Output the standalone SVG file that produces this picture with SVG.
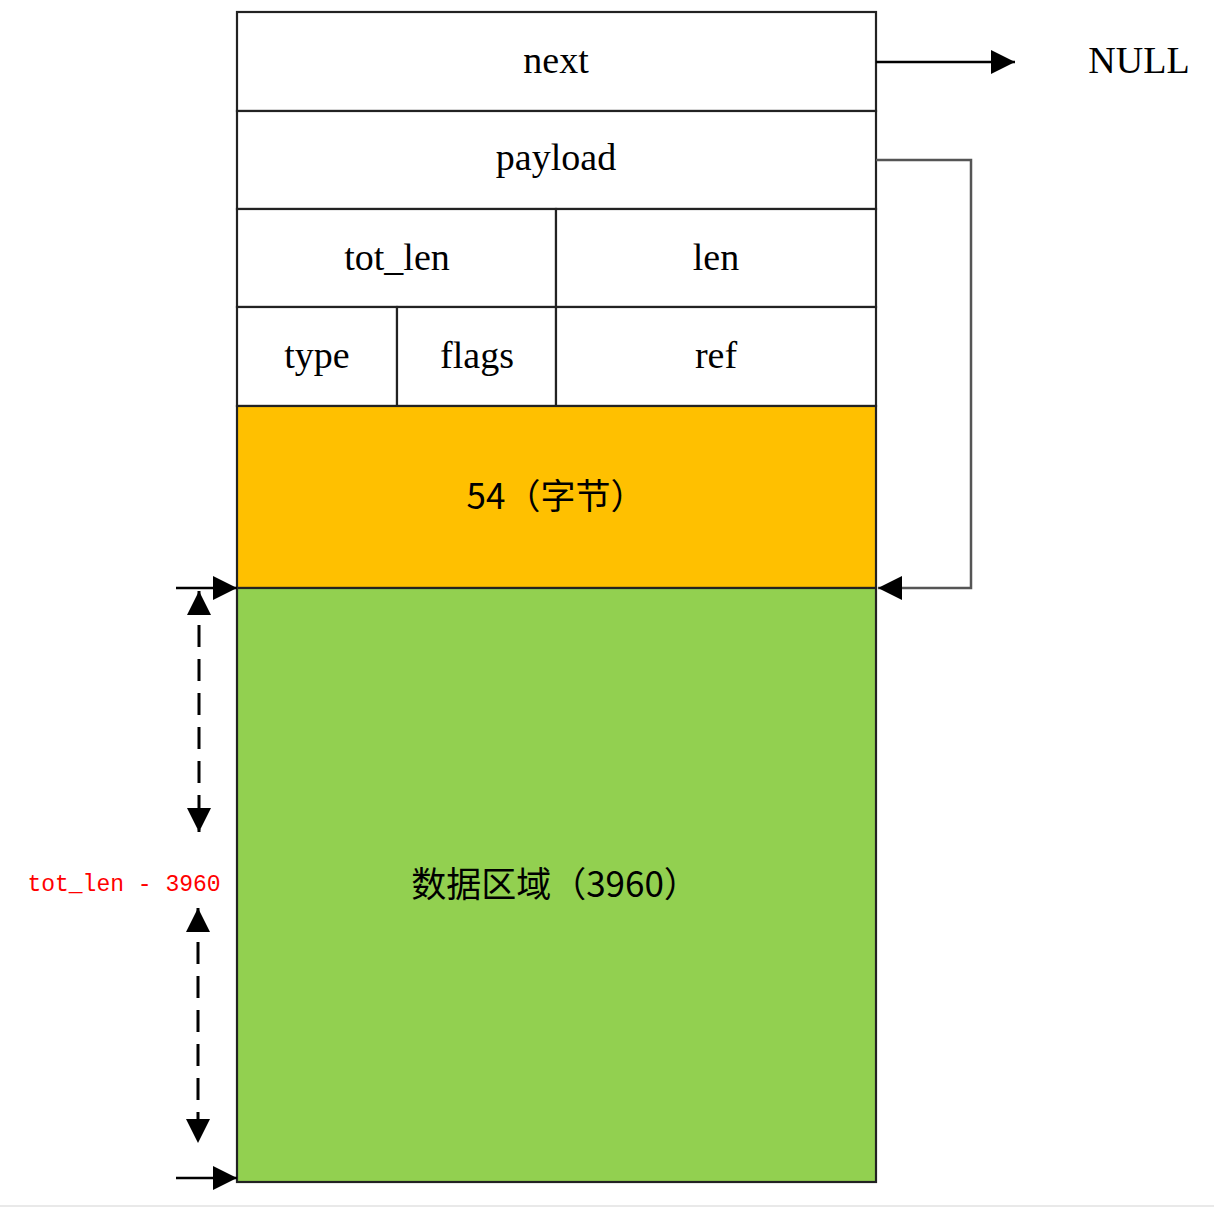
<svg xmlns="http://www.w3.org/2000/svg" width="1214" height="1212" viewBox="0 0 1214 1212">
<style>
.cell{fill:#fff;stroke:#222;stroke-width:2.2}
.lbl{font-family:"Liberation Serif","Times New Roman",serif;font-size:38px;fill:#000;text-anchor:middle}
.cjk{font-family:"Noto Sans CJK SC",sans-serif;font-size:35px;fill:#000;text-anchor:middle}
.red{font-family:"Liberation Mono","Courier New",monospace;font-size:23px;fill:#f00;text-anchor:middle}
.ln{fill:none;stroke:#000;stroke-width:2.5}
.dash{fill:none;stroke:#000;stroke-width:3;stroke-dasharray:22 12}
</style>
<defs>
<marker id="ah" viewBox="0 0 10 10" refX="10" refY="5" markerWidth="24" markerHeight="24" markerUnits="userSpaceOnUse" orient="auto-start-reverse">
<path d="M0,0 L10,5 L0,10 z" fill="#000"/>
</marker>
</defs>
<rect width="1214" height="1212" fill="#fff"/>
<g id="node-next"><rect class="cell" x="237" y="12" width="639" height="99"/><text class="lbl" x="556" y="73">next</text></g>
<g id="node-payload"><rect class="cell" x="237" y="111" width="639" height="98"/><text class="lbl" x="556" y="170">payload</text></g>
<g id="node-tot_len"><rect class="cell" x="237" y="209" width="319" height="98"/><text class="lbl" x="397" y="270">tot_len</text></g>
<g id="node-len"><rect class="cell" x="556" y="209" width="320" height="98"/><text class="lbl" x="716" y="270">len</text></g>
<g id="node-type"><rect class="cell" x="237" y="307" width="160" height="99"/><text class="lbl" x="317" y="368">type</text></g>
<g id="node-flags"><rect class="cell" x="397" y="307" width="159" height="99"/><text class="lbl" x="477" y="368">flags</text></g>
<g id="node-ref"><rect class="cell" x="556" y="307" width="320" height="99"/><text class="lbl" x="716" y="368">ref</text></g>
<g id="node-header"><rect x="237" y="406" width="639" height="182" fill="#FFC000" stroke="#222" stroke-width="2.2"/><text class="cjk" x="556" y="509">54（字节）</text></g>
<g id="node-data"><rect x="237" y="588" width="639" height="594" fill="#92D050" stroke="#222" stroke-width="2.2"/><text class="cjk" x="555" y="897">数据区域（3960）</text></g>
<g id="node-null"><text class="lbl" x="1139" y="73">NULL</text></g>
<g id="label-totlen"><text class="red" x="124" y="891">tot_len - 3960</text></g>
<g id="connectors">
<path class="ln" d="M876,62 H1015" marker-end="url(#ah)"/>
<path fill="none" stroke="#555" stroke-width="2.5" d="M876,160 H971 V588 H878" marker-end="url(#ah)"/>
<path class="ln" d="M176,588 H237" marker-end="url(#ah)"/>
<path class="ln" d="M176,1178 H237" marker-end="url(#ah)"/>
<path class="dash" d="M199,591 V832" marker-start="url(#ah)" marker-end="url(#ah)"/>
<path class="dash" d="M198,908 V1143" marker-start="url(#ah)" marker-end="url(#ah)"/>
</g>
<line x1="0" y1="1206" x2="1214" y2="1206" stroke="#e2e2e2" stroke-width="1.5"/>
</svg>
